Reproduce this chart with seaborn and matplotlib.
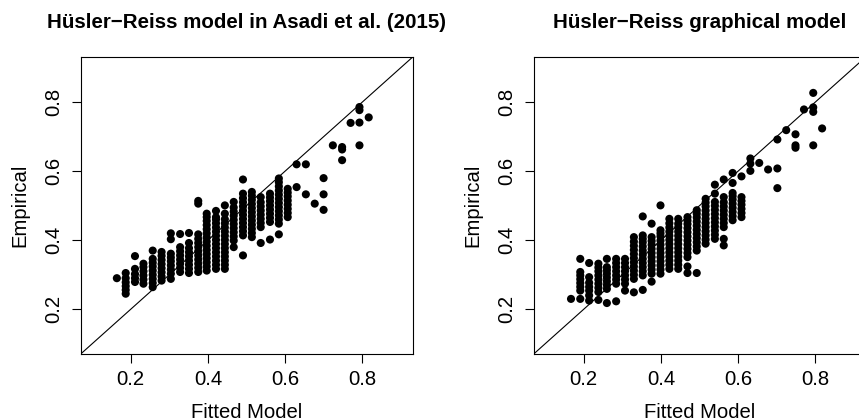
import numpy as np
import pandas as pd
import matplotlib
matplotlib.use("Agg")
import matplotlib.pyplot as plt
import seaborn as sns

# ---------------- data ----------------
titles = ["Hüsler\u2212Reiss model in Asadi et al. (2015)", "Hüsler\u2212Reiss graphical model"]
tick_vals = [0.2, 0.4, 0.6, 0.8]
tick_labels = ["0.2", "0.4", "0.6", "0.8"]

left_col_x = [0.187, 0.211, 0.233, 0.257, 0.280, 0.304, 0.328, 0.351, 0.375, 0.397,
              0.421, 0.444, 0.467, 0.491, 0.514, 0.537, 0.561, 0.584, 0.607]
left_col_y = [
    [0.245, 0.256, 0.267, 0.278, 0.290, 0.305],
    [0.279, 0.290, 0.302, 0.317, 0.354],
    [0.274, 0.286, 0.298, 0.310, 0.322, 0.332],
    [0.264, 0.276, 0.288, 0.300, 0.312, 0.324, 0.335, 0.346, 0.370],
    [0.283, 0.295, 0.307, 0.319, 0.331, 0.343, 0.355, 0.366],
    [0.288, 0.303, 0.315, 0.327, 0.339, 0.350, 0.361, 0.403, 0.420],
    [0.308, 0.320, 0.332, 0.344, 0.356, 0.368, 0.380, 0.418],
    [0.305, 0.317, 0.329, 0.341, 0.353, 0.365, 0.377, 0.392, 0.421],
    [0.308, 0.320, 0.332, 0.344, 0.356, 0.368, 0.380, 0.392, 0.404, 0.417, 0.506, 0.514],
    [0.312, 0.324, 0.336, 0.348, 0.360, 0.372, 0.384, 0.396, 0.408, 0.420, 0.432, 0.444, 0.456, 0.467, 0.477],
    [0.317, 0.329, 0.341, 0.353, 0.365, 0.377, 0.389, 0.401, 0.413, 0.425, 0.437, 0.449, 0.460, 0.467, 0.485],
    [0.317, 0.329, 0.341, 0.353, 0.365, 0.377, 0.389, 0.401, 0.413, 0.425, 0.437, 0.449, 0.461, 0.477, 0.501],
    [0.380, 0.399, 0.411, 0.423, 0.435, 0.447, 0.459, 0.471, 0.483, 0.495, 0.511],
    [0.356, 0.414, 0.426, 0.438, 0.450, 0.462, 0.474, 0.486, 0.498, 0.510, 0.522, 0.535, 0.576],
    [0.409, 0.421, 0.433, 0.445, 0.457, 0.469, 0.481, 0.493, 0.505, 0.517, 0.529, 0.540],
    [0.392, 0.438, 0.450, 0.462, 0.474, 0.486, 0.498, 0.510, 0.525],
    [0.402, 0.453, 0.465, 0.477, 0.489, 0.501, 0.513, 0.524, 0.535],
    [0.417, 0.448, 0.460, 0.472, 0.484, 0.496, 0.508, 0.520, 0.532, 0.544, 0.556, 0.568, 0.579],
    [0.467, 0.479, 0.491, 0.503, 0.515, 0.527, 0.538, 0.549],
]
left_out_x = [0.164, 0.630, 0.630, 0.654, 0.654, 0.677, 0.700, 0.700, 0.700, 0.724,
              0.748, 0.748, 0.748, 0.770, 0.793, 0.793, 0.793, 0.793, 0.817]
left_out_y = [0.290, 0.620, 0.554, 0.620, 0.533, 0.506, 0.580, 0.533, 0.488, 0.675,
              0.670, 0.663, 0.632, 0.740, 0.786, 0.777, 0.741, 0.675, 0.756]

right_col_x = [0.191, 0.214, 0.238, 0.260, 0.284, 0.307, 0.330, 0.353, 0.376, 0.399,
               0.422, 0.445, 0.469, 0.493, 0.516, 0.540, 0.563, 0.586, 0.609, 0.632]
right_col_y = [
    [0.230, 0.254, 0.265, 0.276, 0.287, 0.298, 0.308, 0.346],
    [0.225, 0.240, 0.254, 0.265, 0.277, 0.293, 0.334],
    [0.227, 0.250, 0.262, 0.274, 0.286, 0.298, 0.310, 0.321, 0.332],
    [0.218, 0.259, 0.270, 0.281, 0.292, 0.303, 0.313, 0.322, 0.346],
    [0.223, 0.274, 0.286, 0.298, 0.310, 0.322, 0.334, 0.346],
    [0.254, 0.274, 0.286, 0.298, 0.310, 0.322, 0.334, 0.346],
    [0.249, 0.288, 0.300, 0.312, 0.324, 0.336, 0.348, 0.360, 0.372, 0.384, 0.396, 0.409],
    [0.256, 0.298, 0.310, 0.322, 0.334, 0.346, 0.358, 0.370, 0.382, 0.394, 0.404, 0.414, 0.469],
    [0.280, 0.303, 0.315, 0.327, 0.339, 0.351, 0.363, 0.375, 0.387, 0.398, 0.409, 0.448],
    [0.303, 0.315, 0.327, 0.339, 0.351, 0.363, 0.375, 0.387, 0.399, 0.411, 0.420, 0.429, 0.501],
    [0.317, 0.329, 0.341, 0.353, 0.365, 0.377, 0.389, 0.401, 0.413, 0.425, 0.437, 0.449, 0.462],
    [0.317, 0.329, 0.341, 0.353, 0.365, 0.377, 0.389, 0.401, 0.413, 0.425, 0.437, 0.448, 0.462],
    [0.305, 0.324, 0.351, 0.363, 0.375, 0.387, 0.399, 0.411, 0.423, 0.435, 0.447, 0.457, 0.467],
    [0.305, 0.370, 0.382, 0.394, 0.406, 0.418, 0.430, 0.442, 0.454, 0.466, 0.477, 0.487],
    [0.390, 0.402, 0.414, 0.426, 0.438, 0.450, 0.462, 0.474, 0.486, 0.498, 0.509, 0.520],
    [0.404, 0.416, 0.428, 0.440, 0.452, 0.464, 0.476, 0.488, 0.500, 0.511, 0.535, 0.561],
    [0.385, 0.404, 0.438, 0.450, 0.462, 0.474, 0.486, 0.498, 0.510, 0.525, 0.576],
    [0.458, 0.470, 0.482, 0.494, 0.506, 0.518, 0.528, 0.537, 0.566, 0.595],
    [0.467, 0.479, 0.491, 0.503, 0.514, 0.525, 0.585],
    [0.601, 0.622, 0.637],
]
right_out_x = [0.167, 0.655, 0.678, 0.702, 0.702, 0.702, 0.725, 0.749, 0.749, 0.749,
               0.771, 0.795, 0.795, 0.795, 0.795, 0.818]
right_out_y = [0.230, 0.624, 0.605, 0.692, 0.608, 0.551, 0.719, 0.707, 0.675, 0.668,
               0.779, 0.827, 0.785, 0.772, 0.675, 0.724]


def build_frame(col_x, col_y, out_x, out_y):
    xs, ys = [], []
    for cx, cys in zip(col_x, col_y):
        xs += [cx] * len(cys)
        ys += list(cys)
    xs += list(out_x)
    ys += list(out_y)
    return pd.DataFrame({"fitted": xs, "empirical": ys})


frames = [build_frame(left_col_x, left_col_y, left_out_x, left_out_y),
          build_frame(right_col_x, right_col_y, right_out_x, right_out_y)]

# ---------------- drawing ----------------
sns.set_theme(style="white")
plt.rcParams["font.family"] = ["Liberation Sans", "DejaVu Sans"]

W, H = 859, 420
fig = plt.figure(figsize=(W / 100, H / 100), dpi=100)
fig.patch.set_facecolor("white")

ax_left_px = [80.7, 533.7]
ax_w, ax_top, ax_bot = 332.0, 57.0, 354.0
lim = (0.0703, 0.931)
label_fs = 14.6
title_fs = 14.8

for i, df in enumerate(frames):
    ax = fig.add_axes([ax_left_px[i] / W, (H - ax_bot) / H, ax_w / W, (ax_bot - ax_top) / H])
    ax.set_facecolor("white")
    sns.scatterplot(data=df, x="fitted", y="empirical", ax=ax, color="black",
                    s=34, linewidth=0, edgecolor="none", legend=False, zorder=3)
    ax.axline((0, 0), (1, 1), color="black", lw=0.8, zorder=2)
    ax.set_xlim(*lim)
    ax.set_ylim(*lim)
    ax.set_xticks(tick_vals)
    ax.set_xticklabels(tick_labels)
    ax.set_yticks(tick_vals)
    ax.set_yticklabels(tick_labels, rotation=90, va="center")
    ax.tick_params(axis="both", direction="out", length=6.5, width=0.8, color="black",
                   labelsize=label_fs, labelcolor="black", bottom=True, left=True, top=False, right=False)
    ax.tick_params(axis="x", pad=5)
    ax.tick_params(axis="y", pad=6)
    for sp in ax.spines.values():
        sp.set_visible(True)
        sp.set_color("black")
        sp.set_linewidth(0.8)
    ax.set_xlabel("Fitted Model", fontsize=label_fs, color="black")
    ax.set_ylabel("Empirical", fontsize=label_fs, color="black")
    ax.xaxis.set_label_coords(0.5, -(412 - ax_bot) / (ax_bot - ax_top))
    ax.xaxis.label.set_va("center")
    ax.yaxis.set_label_coords(-(80.7 - 20) / ax_w, 0.5)
    ax.yaxis.label.set_va("center")
    fig.text((ax_left_px[i] + ax_w / 2) / W, 1 - 22 / H, titles[i], ha="center", va="center",
             fontsize=title_fs, fontweight="bold", color="black")

fig.savefig("out.png", dpi=100, facecolor="white")
